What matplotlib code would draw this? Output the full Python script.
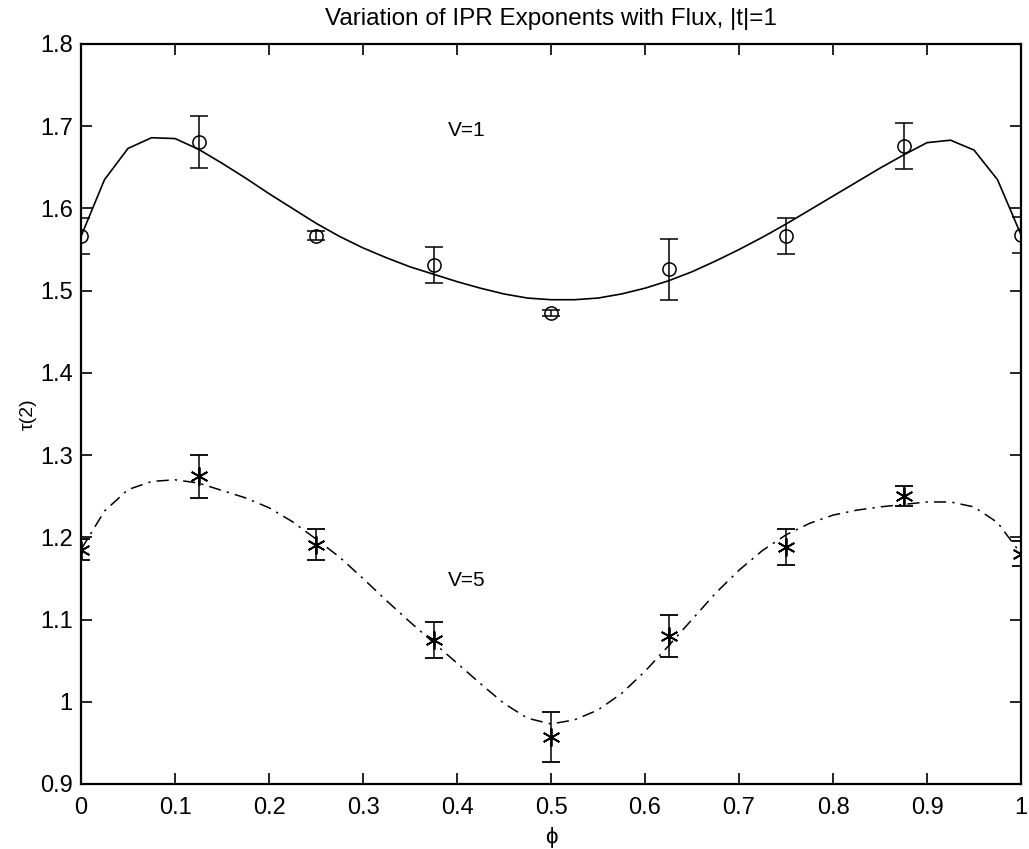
import matplotlib
matplotlib.use("Agg")
import matplotlib.pyplot as plt
import numpy as np

plt.rcParams['font.family'] = ['Liberation Sans', 'DejaVu Sans']

# measured points
phi_pts = [0, 0.125, 0.25, 0.375, 0.5, 0.625, 0.75, 0.875, 1.0]
tau_v1 = [1.566, 1.681, 1.567, 1.531, 1.473, 1.526, 1.566, 1.676, 1.568]
err_v1 = [0.022, 0.032, 0.005, 0.022, 0.004, 0.037, 0.022, 0.028, 0.022]
tau_v5 = [1.185, 1.274, 1.191, 1.075, 0.957, 1.080, 1.188, 1.250, 1.180]
err_v5 = [0.013, 0.026, 0.019, 0.022, 0.030, 0.026, 0.022, 0.012, 0.015]

# fitted curves
phi_fit = [0, 0.025, 0.05, 0.075, 0.1, 0.125, 0.15, 0.175, 0.2, 0.225,
           0.25, 0.275, 0.3, 0.325, 0.35, 0.375, 0.4, 0.425, 0.45, 0.475,
           0.5, 0.525, 0.55, 0.575, 0.6, 0.625, 0.65, 0.675, 0.7, 0.725,
           0.75, 0.775, 0.8, 0.825, 0.85, 0.875, 0.9, 0.925, 0.95, 0.975, 1.0]
fit_v1 = [1.566, 1.635, 1.673, 1.686, 1.685, 1.672, 1.655, 1.637, 1.618, 1.600,
          1.582, 1.566, 1.552, 1.540, 1.529, 1.520, 1.511, 1.503, 1.496, 1.491,
          1.489, 1.489, 1.491, 1.496, 1.503, 1.512, 1.523, 1.536, 1.550, 1.565,
          1.581, 1.598, 1.615, 1.632, 1.649, 1.665, 1.680, 1.683, 1.671, 1.635, 1.568]
fit_v5 = [1.185, 1.232, 1.258, 1.268, 1.270, 1.266, 1.257, 1.248, 1.236, 1.219,
          1.198, 1.176, 1.150, 1.123, 1.097, 1.072, 1.047, 1.022, 0.998, 0.980,
          0.973, 0.978, 0.990, 1.010, 1.037, 1.068, 1.100, 1.132, 1.160, 1.184,
          1.203, 1.217, 1.227, 1.233, 1.237, 1.240, 1.243, 1.243, 1.237, 1.218, 1.180]

xticks = [0, 0.1, 0.2, 0.3, 0.4, 0.5, 0.6, 0.7, 0.8, 0.9, 1]
xticklabels = ['0', '0.1', '0.2', '0.3', '0.4', '0.5', '0.6', '0.7', '0.8', '0.9', '1']
yticks = [0.9, 1.0, 1.1, 1.2, 1.3, 1.4, 1.5, 1.6, 1.7, 1.8]
yticklabels = ['0.9', '1', '1.1', '1.2', '1.3', '1.4', '1.5', '1.6', '1.7', '1.8']

fig = plt.figure(figsize=(10.29, 8.49), dpi=100)
ax = fig.add_axes([81/1029, 1-784/849, 940/1029, 740/849])

ax.plot(phi_fit, fit_v1, '-', color='black', lw=1.2)
ax.plot(phi_fit, fit_v5, linestyle=(0, (8, 4, 1.5, 4)), color='black', lw=1.1)

ax.errorbar(phi_pts, tau_v1, yerr=err_v1, fmt='o', mfc='none', mec='black',
            ms=9.5, mew=1.1, ecolor='black', elinewidth=1.1, capsize=6.5, capthick=1.3)
ax.errorbar(phi_pts, tau_v5, yerr=err_v5, fmt='none', ecolor='black',
            elinewidth=1.1, capsize=6.5, capthick=1.3)
ax.plot(phi_pts, tau_v5, linestyle='none', marker=(6, 2, 0), ms=13,
        mec='black', mew=1.3, color='black')

ax.text(0.41, 1.695, 'V=1', fontsize=15, ha='center', va='center')
ax.text(0.41, 1.148, 'V=5', fontsize=15, ha='center', va='center')

ax.set_xlim(0, 1)
ax.set_ylim(0.9, 1.8)
ax.set_xticks(xticks)
ax.set_xticklabels(xticklabels)
ax.set_yticks(yticks)
ax.set_yticklabels(yticklabels)
ax.tick_params(direction='in', length=8, width=1.2, top=True, right=True,
               labelsize=17)
ax.tick_params(axis='x', pad=9)
ax.tick_params(axis='y', pad=6)
for s in ax.spines.values():
    s.set_linewidth(1.6)

ax.set_title('Variation of IPR Exponents with Flux, |t|=1', fontsize=17.5, pad=14)
ax.set_xlabel('ϕ', fontsize=16, labelpad=6)
ax.set_ylabel('τ(2)', fontsize=14, labelpad=2)

fig.savefig('out.png', dpi=100)
